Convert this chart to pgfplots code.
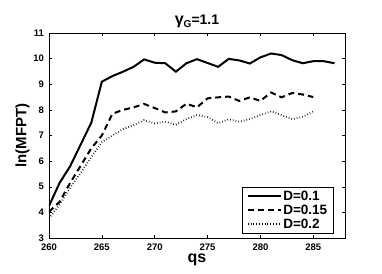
\documentclass[border=0pt]{standalone}
\usepackage{fontspec}
\setmainfont{Liberation Sans}
\usepackage{pgfplots}
\pgfplotsset{compat=1.18}
\begin{document}
\begin{tikzpicture}
\begin{axis}[
  scale only axis, width=296pt, height=205pt,
  xmin=260, xmax=288, ymin=3, ymax=11,
  xtick={260,265,...,285}, ytick={3,...,11},
  tick align=inside, tick style={black, line width=0.5pt}, major tick length=3pt,
  axis line style={line width=0.6pt},
  /pgf/number format/assume math mode=true,
  /pgf/number format/1000 sep={},
  ticklabel style={font=\fontsize{9.5}{10}\selectfont\bfseries},
  xticklabel style={yshift=-2pt},
  yticklabel style={xshift=-1.5pt},
  xlabel={qs}, ylabel={ln(MFPT)},
  xlabel style={font=\fontsize{16}{17}\selectfont\bfseries, yshift=3pt},
  ylabel style={font=\fontsize{15}{16}\selectfont\bfseries, yshift=-3pt},
  title={{\fontsize{16}{17}\selectfont γ}\raisebox{-3pt}{\fontsize{10}{11}\selectfont G}=1.1},
  title style={font=\fontsize{14}{15}\selectfont\bfseries, yshift=-4pt},
  legend style={font=\fontsize{13.5}{14}\selectfont\bfseries, draw=black, line width=0.6pt,
    at={(0.963,0.02)}, anchor=south east, inner xsep=5pt, inner ysep=2pt, row sep=-1pt,
    nodes={inner xsep=1.5pt}},
  legend cell align=left,
  legend image code/.code={\draw[#1] (0pt,0pt) -- (33pt,0pt);},
]
\addplot[black, line width=2pt] coordinates {
(260,4.25) (261,5.15) (262,5.8) (263,6.65) (264,7.5) (265,9.1) (266,9.32) (267,9.49)
(268,9.68) (269,9.97) (270,9.84) (271,9.82) (272,9.49) (273,9.82) (274,9.98) (275,9.83)
(276,9.68) (277,9.99) (278,9.93) (279,9.81) (280,10.05) (281,10.2) (282,10.14) (283,9.94)
(284,9.82) (285,9.9) (286,9.9) (287,9.82)};
\addlegendentry{D=0.1}
\addplot[black, line width=2pt, dash pattern=on 6pt off 4pt] coordinates {
(260,4.02) (261,4.41) (262,5.15) (263,5.82) (264,6.5) (265,7.0) (266,7.85) (267,8.0)
(268,8.1) (269,8.23) (270,8.07) (271,7.9) (272,7.94) (273,8.24) (274,8.1) (275,8.45)
(276,8.49) (277,8.52) (278,8.35) (279,8.49) (280,8.35) (281,8.68) (282,8.49) (283,8.66)
(284,8.6) (285,8.5)};
\addlegendentry{D=0.15}
\addplot[black, line width=1.8pt, dash pattern=on 0.6pt off 2.2pt] coordinates {
(260,3.77) (261,4.3) (262,4.96) (263,5.54) (264,6.16) (265,6.74) (266,7.0) (267,7.25)
(268,7.4) (269,7.6) (270,7.47) (271,7.54) (272,7.42) (273,7.64) (274,7.8) (275,7.72)
(276,7.48) (277,7.63) (278,7.54) (279,7.64) (280,7.8) (281,7.94) (282,7.8) (283,7.64)
(284,7.73) (285,7.94)};
\addlegendentry{D=0.2}
\end{axis}
\pgfresetboundingbox
\path[use as bounding box] (-49pt,-35pt) rectangle (333pt,238pt);
\end{tikzpicture}
\end{document}
